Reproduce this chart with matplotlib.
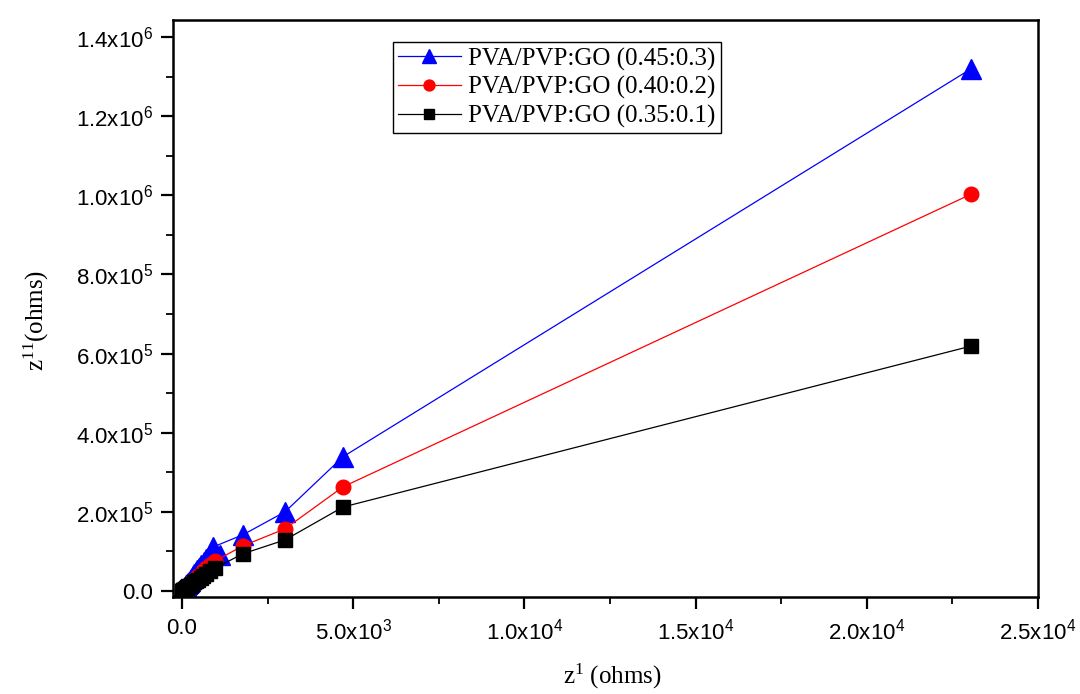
import matplotlib
matplotlib.use('Agg')
import matplotlib.pyplot as plt
from matplotlib.ticker import MultipleLocator, FuncFormatter

# Z' / Z'' readings (ohms)
blue_x = [5, 12, 20, 30, 40, 52, 65, 80, 95, 112, 130, 150, 172, 196, 222,
          250, 282, 318, 358, 402, 450, 505, 565, 630, 700, 780, 1100, 905,
          1780, 3010, 4700, 23050]
blue_y = [500, 1300, 2200, 3300, 4500, 5900, 7400, 9100, 10900, 12900,
          15000, 17300, 19900, 22700, 25800, 29000, 32700, 36900, 41500,
          46600, 52000, 58300, 65000, 72300, 80000, 88500, 90000, 111000,
          142000, 200000, 339000, 1320000]

red_x = [5, 12, 20, 30, 42, 56, 72, 90, 110, 132, 158, 188, 222, 260, 305,
         355, 410, 470, 540, 620, 710, 820, 950, 1780, 3010, 4700, 23050]
red_y = [400, 1000, 1600, 2400, 3400, 4500, 5800, 7300, 8900, 10700,
         12800, 15200, 18000, 21100, 24700, 28800, 33200, 38000, 43700,
         50000, 57000, 65500, 75000, 114000, 157000, 263000, 1003000]

black_x = [5, 12, 20, 30, 42, 56, 72, 90, 110, 132, 158, 188, 222, 260, 305,
           355, 410, 470, 540, 620, 710, 820, 950, 1780, 3010, 4700, 23050]
black_y = [300, 750, 1250, 1850, 2600, 3450, 4400, 5500, 6700, 8000,
           9600, 11400, 13400, 15700, 18400, 21400, 24800, 28500, 32800,
           37600, 43000, 49500, 57000, 94000, 129000, 212000, 619000]

labels = ['PVA/PVP:GO (0.45:0.3)', 'PVA/PVP:GO (0.40:0.2)', 'PVA/PVP:GO (0.35:0.1)']


def sci_fmt(v, pos):
    if v == 0:
        return '0.0'
    exp = 0
    m = abs(v)
    while m >= 10:
        m /= 10.0
        exp += 1
    return r'%.1fx10$\mathregular{^{%d}}$' % (m, exp)


fig = plt.figure(figsize=(10.8, 6.94), dpi=100)
ax = fig.add_axes([0.160, 0.140, 0.801, 0.831])

ax.plot(blue_x, blue_y, color='blue', lw=0.9, marker='^', ms=14, label=labels[0])
ax.plot(red_x, red_y, color='red', lw=0.9, marker='o', ms=10.5, label=labels[1])
ax.plot(black_x, black_y, color='black', lw=0.9, marker='s', ms=9.5, label=labels[2])

ax.set_xlim(-270, 25000)
ax.set_ylim(-15000, 1.443e6)

ax.xaxis.set_major_locator(MultipleLocator(5000))
ax.xaxis.set_minor_locator(MultipleLocator(2500))
ax.yaxis.set_major_locator(MultipleLocator(2e5))
ax.yaxis.set_minor_locator(MultipleLocator(1e5))
ax.xaxis.set_major_formatter(FuncFormatter(sci_fmt))
ax.yaxis.set_major_formatter(FuncFormatter(sci_fmt))

ax.tick_params(which='major', direction='out', length=8.5, width=1.6,
               labelsize=16, pad=6)
ax.tick_params(which='minor', direction='out', length=5, width=1.3)
ax.tick_params(axis='x', pad=7)
for lab in ax.get_xticklabels() + ax.get_yticklabels():
    lab.set_family(['Liberation Sans', 'DejaVu Sans'])

for s in ax.spines.values():
    s.set_linewidth(1.8)

ax.set_xlabel(r'z$\mathregular{^{1}}$ (ohms)', family='Liberation Serif', fontsize=18)
ax.set_ylabel(r'z$\mathregular{^{11}}$(ohms)', family='Liberation Serif', fontsize=18)
ax.xaxis.set_label_coords(0.508, -0.112)
ax.yaxis.set_label_coords(-0.141, 0.48)

leg = ax.legend(loc='upper left', bbox_to_anchor=(0.254, 0.962), frameon=True,
                fancybox=False, edgecolor='black', framealpha=1,
                prop={'family': 'Liberation Serif', 'size': 18},
                handlelength=2.5, borderpad=0.22, labelspacing=0.22,
                handletextpad=0.3, markerscale=0.75, borderaxespad=0)
leg.get_frame().set_linewidth(1.0)

fig.savefig('out.png', dpi=100)
